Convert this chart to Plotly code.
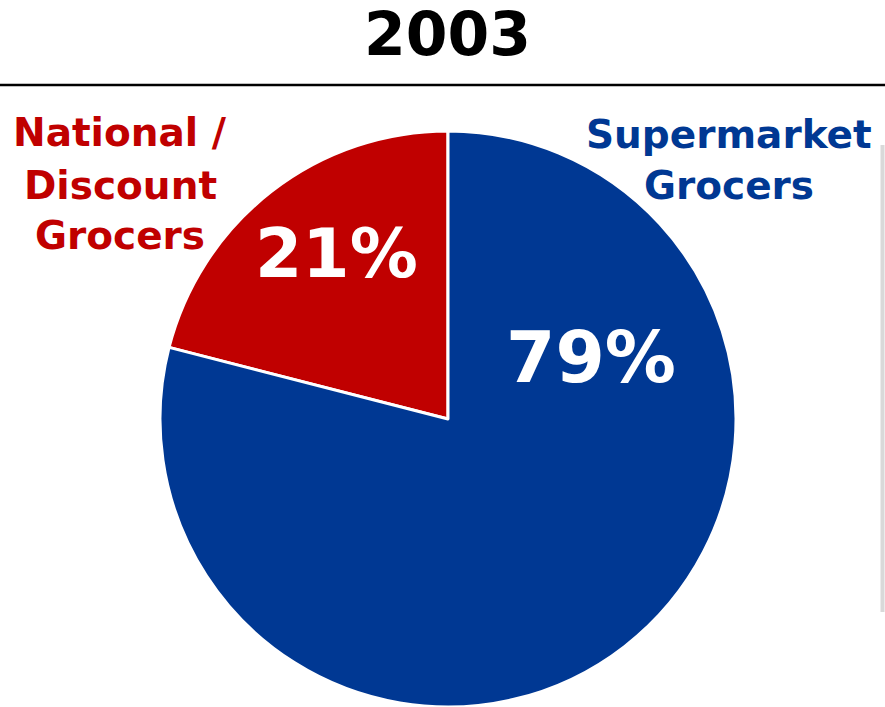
import plotly.graph_objects as go

# Market share of grocery sales, 2003
title_text = "2003"
categories = ["National /<br>Discount<br>Grocers", "Supermarket<br>Grocers"]
shares = [21, 79]
colors = ["#C00000", "#003893"]

W, H = 885, 707
FONT = "DejaVu Sans"

fig = go.Figure()

# Pie geometry in pixels (center and radius), converted to paper domain
cx, cy, r = 448, 419, 288
# first slice ends at 12 o'clock, sweeping back to the left
start_angle = -360 * shares[0] / sum(shares)
fig.add_trace(go.Pie(
    labels=[c.replace("<br>", " ") for c in categories],
    values=shares,
    sort=False,
    direction="clockwise",
    rotation=start_angle,
    marker=dict(colors=colors, line=dict(color="white", width=3)),
    textinfo="none",
    hoverinfo="label+percent",
    showlegend=False,
    domain=dict(x=[(cx - r) / W, (cx + r) / W],
                y=[(H - cy - r) / H, (H - cy + r) / H]),
))


def px_y(y):
    return 1 - y / H


annotations = [
    dict(text=f"<b>{title_text}</b>", x=447 / W, y=px_y(-3), yanchor="top",
         font=dict(size=60, color="black", family=FONT)),
    dict(text=f"<b>{shares[0]}%</b>", x=336 / W, y=px_y(254),
         font=dict(size=68, color="white", family=FONT)),
    dict(text=f"<b>{shares[1]}%</b>", x=591 / W, y=px_y(357),
         font=dict(size=71, color="white", family=FONT)),
]

# category labels, one annotation per line for tighter leading
label_layout = [(120, [133, 185, 236]), (729, [134, 185])]
for cat, color, (lx, ys) in zip(categories, colors, label_layout):
    for line, ly in zip(cat.split("<br>"), ys):
        annotations.append(dict(text=f"<b>{line}</b>", x=lx / W, y=px_y(ly),
                                font=dict(size=39, color=color, family=FONT)))

for a in annotations:
    a.setdefault("yanchor", "middle")
    a.update(xref="paper", yref="paper", showarrow=False, xanchor="center")

shapes = [
    # rule under the title
    dict(type="line", xref="paper", yref="paper", x0=0, x1=1,
         y0=px_y(85), y1=px_y(85), line=dict(color="black", width=2.5)),
    # thin grey edge on the right
    dict(type="line", xref="paper", yref="paper", x0=882.5 / W, x1=882.5 / W,
         y0=px_y(145), y1=px_y(612), line=dict(color="#d9d9d9", width=4)),
]

fig.update_layout(
    width=W, height=H,
    margin=dict(l=0, r=0, t=0, b=0),
    paper_bgcolor="white", plot_bgcolor="white",
    annotations=annotations,
    shapes=shapes,
    font=dict(family=FONT),
)

fig.write_html("out.html")
